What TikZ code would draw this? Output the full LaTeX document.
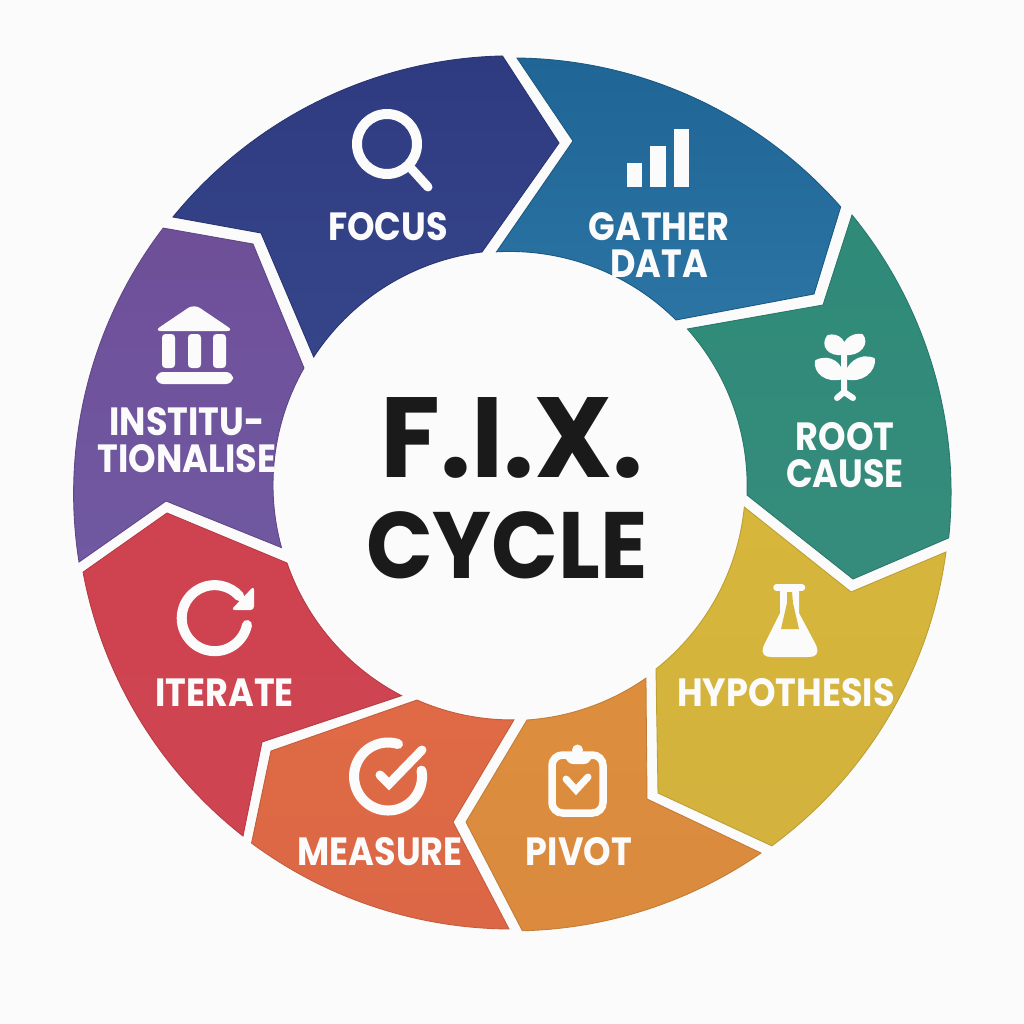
\documentclass[tikz,border=0pt]{standalone}
\usepackage{fontspec}
\usepackage{xcolor}
\usepackage{tikz}
\setmainfont{Poppins}
\definecolor{FixBack}{HTML}{FBFBFB}
\definecolor{FixInk}{HTML}{1A1A1A}
\definecolor{FixFocusA}{HTML}{2F3B80}
\definecolor{FixFocusB}{HTML}{36458A}
\definecolor{FixDataA}{HTML}{1F6595}
\definecolor{FixDataB}{HTML}{2B74A4}
\definecolor{FixRootA}{HTML}{2F8A78}
\definecolor{FixRootB}{HTML}{368C7C}
\definecolor{FixHypoA}{HTML}{D6B63B}
\definecolor{FixHypoB}{HTML}{D3B23E}
\definecolor{FixPivotA}{HTML}{DC8E3D}
\definecolor{FixPivotB}{HTML}{DB8A3E}
\definecolor{FixMeasA}{HTML}{DF6A45}
\definecolor{FixMeasB}{HTML}{DC6746}
\definecolor{FixIterA}{HTML}{CE434F}
\definecolor{FixIterB}{HTML}{CE4450}
\definecolor{FixInstA}{HTML}{6E4F98}
\definecolor{FixInstB}{HTML}{7059A2}
\tikzset{
  ringseg/.style 2 args={top color=#1,bottom color=#2,draw=#1!88!black,line width=.25pt,line join=miter},
  seglabel/.style={text=FixBack,inner sep=0pt,align=center,font=\fontsize{11.2}{10.6}\selectfont\bfseries\addfontfeature{FakeStretch=.89}},
  bigtitle/.style 2 args={text=FixInk,inner sep=0pt,font=\fontsize{#1}{#1}\selectfont\bfseries\addfontfeature{FakeStretch=#2}},
  iconline/.style={draw=FixBack,line width=#1,line cap=round},
  iconleaf/.style={fill=FixBack,draw=FixBack,line width=.02cm,line join=round},
}
\begin{document}
\begin{tikzpicture}[x=.01cm,y=-.01cm]
  \fill[FixBack] (0,0) rectangle (1024,1024);
  \useasboundingbox (0,0) rectangle (1024,1024);
  % ring segments
  \path[ringseg={FixFocusA}{FixFocusB}] (173,217) arc[start angle=-140.8,end angle=-91.3,radius=438]
    -- (559,143) -- (482,252) arc[start angle=-97.1,end angle=-146.8,radius=236] -- (261,233) -- cycle;
  \path[ringseg={FixDataA}{FixDataB}] (517,58) arc[start angle=-89.3,end angle=-41.3,radius=438]
    -- (814,294) -- (676,320) arc[start angle=-45.2,end angle=-93.2,radius=236] -- (573,141) -- cycle;
  \path[ringseg={FixRootA}{FixRootB}] (852,215) arc[start angle=-39.3,end angle=5.96,radius=438]
    -- (853,579) -- (747,495) arc[start angle=2.2,end angle=-41.7,radius=236] -- (823,305) -- cycle;
  \path[ringseg={FixHypoA}{FixHypoB}] (946,552) arc[start angle=7.7,end angle=53.6,radius=438]
    -- (658,793) -- (656,669) arc[start angle=51.6,end angle=5.6,radius=236] -- (851,592) -- cycle;
  \path[ringseg={FixPivotA}{FixPivotB}] (761,853) arc[start angle=55.3,end angle=88.6,radius=438]
    -- (466,822) -- (527,720) arc[start angle=86.1,end angle=55.1,radius=236] -- (647,799) -- cycle;
  \path[ringseg={FixMeasA}{FixMeasB}] (509,929) arc[start angle=90.4,end angle=126.5,radius=438]
    -- (271,751) -- (417,700) arc[start angle=113.7,end angle=89.5,radius=236] -- (453,822) -- cycle;
  \path[ringseg={FixIterA}{FixIterB}] (243,836) arc[start angle=128.15,end angle=169.4,radius=438]
    -- (167,513) -- (287,563) arc[start angle=161,end angle=117.4,radius=236] -- (262,742) -- cycle;
  \path[ringseg={FixInstA}{FixInstB}] (79,562) arc[start angle=171,end angle=217.3,radius=438]
    -- (253,244) -- (304,368) arc[start angle=209.7,end angle=164.6,radius=236] -- (166,501) -- cycle;
  % centre
  \node[bigtitle={32.4}{.96}] (fixtitle) at (512,438) {F.I.X.};
  \node[bigtitle={26.8}{.93}] (cycletitle) at (507,545) {CYCLE};
  % labels
  \node[seglabel] (focuslabel) at (388,227) {FOCUS};
  \node[seglabel] (gatherlabel) at (659,245) {GATHER\\DATA};
  \node[seglabel] (rootlabel) at (845,455) {ROOT\\CAUSE};
  \node[seglabel] (hypolabel) at (786,693) {HYPOTHESIS};
  \node[seglabel] (pivotlabel) at (579,852) {PIVOT};
  \node[seglabel] (measurelabel) at (380,852) {MEASURE};
  \node[seglabel] (iteratelabel) at (224.5,693) {ITERATE};
  \node[seglabel] (instlabel) at (187,440) {INSTITU-\\TIONALISE};
  % focus icon
  \draw[iconline=.1cm] (387,144) circle[radius=30];
  \draw[iconline=.09cm] (408,165) -- (428,187);
  % data icon
  \fill[FixBack] (627,163) rectangle (642,187);
  \fill[FixBack] (650,146) rectangle (666,187);
  \fill[FixBack] (674,129) rectangle (689,187);
  % root icon
  \draw[iconline=.06cm] (844,347) -- (844,392) (837,398) -- (844,392) -- (853,398);
  \path[iconleaf] (844,354) .. controls (828,356) and (821,345) .. (828,336) .. controls (838,333) and (848,342) .. (844,354) -- cycle;
  \path[iconleaf] (844,354) .. controls (860,356) and (869,343) .. (862,335) .. controls (852,333) and (840,342) .. (844,354) -- cycle;
  \path[iconleaf] (843,378) .. controls (826,383) and (814,372) .. (816,361) .. controls (830,354) and (843,364) .. (843,378) -- cycle;
  \path[iconleaf] (845,378) .. controls (862,383) and (875,371) .. (874,359) .. controls (860,353) and (846,364) .. (845,378) -- cycle;
  % hypothesis icon
  \draw[iconline=.065cm] (776.5,587.5) -- (802,587.5);
  \fill[FixBack] (780,591) -- (780,613) -- (764,645) .. controls (760,655) and (765,657) .. (772,657)
    -- (808,657) .. controls (815,657) and (820,655) .. (816,645) -- (799,613) -- (799,591) -- cycle;
  \fill[FixHypoA] (787,592) -- (792,592) -- (793,603) -- (799,629) -- (781,629) -- (787,603) -- cycle;
  % pivot icon
  \draw[draw=FixBack,line width=.075cm,rounded corners=3] (552,755) rectangle (603,813);
  \fill[FixBack,rounded corners=2] (566,753) rectangle (591,764);
  \fill[FixBack] (577.5,750) circle[radius=5.5];
  \draw[iconline=.07cm] (566,779) -- (576,790) -- (588,777);
  % measure icon
  \draw[iconline=.1cm] (398,744) arc[start angle=-73,end angle=-370,radius=34];
  \draw[iconline=.09cm,line join=miter] (380,775) -- (389,784) -- (422,750);
  % iterate icon
  \draw[iconline=.1cm] (247,625) arc[start angle=12,end angle=318,radius=33];
  \fill[FixBack,rounded corners=1] (254,586) -- (254,610) -- (231,610) -- cycle;
  % institutionalise icon
  \fill[FixBack,rounded corners=2] (194,304) -- (234,331) -- (154,331) -- cycle;
  \fill[FixBack,rounded corners=1] (162,334) rectangle (175,368);
  \fill[FixBack,rounded corners=1] (188,334) rectangle (201,368);
  \fill[FixBack,rounded corners=1] (213,334) rectangle (226,368);
  \fill[FixBack,rounded corners=2] (156,372) rectangle (233,384);
\end{tikzpicture}
\end{document}
